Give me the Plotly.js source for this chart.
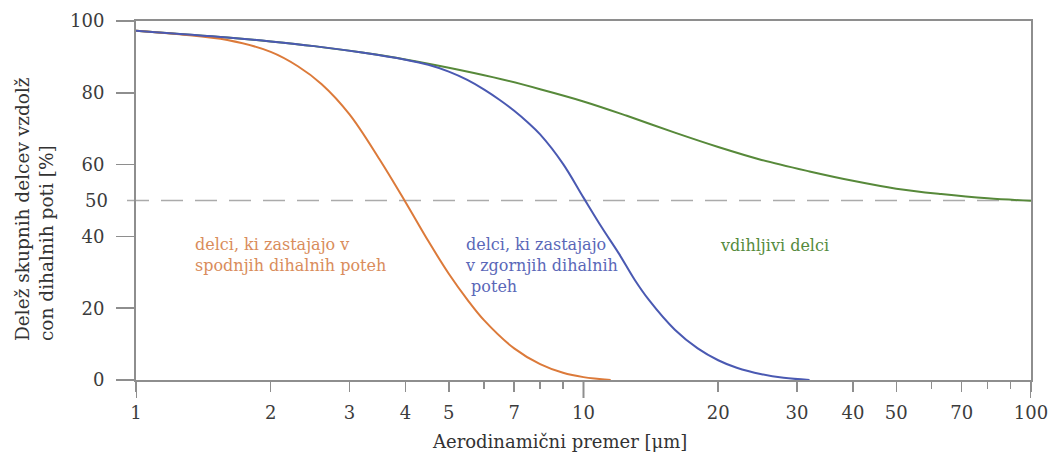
<!DOCTYPE html>
<html>
<head>
<meta charset="utf-8">
<script src="https://cdn.plot.ly/plotly-3.0.1.min.js"></script>
<style>
  html, body { margin: 0; padding: 0; background: #ffffff; }
  #chart { width: 1049px; height: 452px; }
</style>
</head>
<body>
<div id="chart"></div>
<script>
// Aerodynamic diameter [µm] and fraction of particles [%] for each convention
const inhalableX = [1, 1.25, 1.6, 2, 2.5, 3.2, 4, 5, 6.3, 8, 10, 12.5, 16, 20, 25, 32, 40, 50, 63, 80, 100];
const inhalableY = [97.3, 96.4, 95.4, 94.3, 93.0, 91.2, 89.3, 87.0, 84.3, 81.0, 77.6, 73.6, 68.9, 64.9, 61.3, 58.1, 55.5, 53.3, 51.8, 50.6, 49.9];

const lowerX = [1, 1.25, 1.6, 2, 2.3, 2.6, 3, 3.5, 4, 4.5, 5, 5.5, 6, 7, 8, 9, 10, 11.5];
const lowerY = [97.3, 96.3, 94.7, 91.4, 87.4, 82.4, 74.0, 61.5, 49.6, 38.7, 29.6, 22.4, 16.6, 8.8, 4.4, 2.0, 0.8, 0];

const upperX = [1, 1.6, 2, 2.5, 3.2, 4, 4.5, 5, 5.5, 6, 6.5, 7, 7.5, 8, 9, 10, 11, 12, 13, 14, 16, 18, 20, 22, 25, 28, 32];
const upperY = [97.3, 95.4, 94.3, 93.0, 91.2, 89.2, 87.8, 85.9, 83.6, 80.9, 78.0, 75.0, 71.8, 68.4, 60.2, 50.8, 42.4, 35.2, 28.0, 22.3, 14.0, 8.8, 5.5, 3.4, 1.6, 0.6, 0];

// Axis ticks
const xTickVals = [1, 2, 3, 4, 5, 7, 10, 20, 30, 40, 50, 70, 100];
const xTickText = ['1', '2', '3', '4', '5', '7', '10', '20', '30', '40', '50', '70', '100'];
const xMinorVals = [6, 8, 9, 60, 80, 90];
const decadeVals = [1, 10, 100];
const yTickVals = [0, 20, 40, 60, 80, 100];
const halfLevel = 50;

// Series labels
const lowerLabel = 'delci, ki zastajajo v<br>spodnjih dihalnih poteh';
const upperLabel = 'delci, ki zastajajo<br>v zgornjih dihalnih<br> poteh';
const inhalableLabel = 'vdihljivi delci';
const xTitle = 'Aerodinamični premer [μm]';
const yTitle = 'Delež skupnih delcev vzdolž<br>con dihalnih poti [%]';

const FONT = 'DejaVu Serif, Liberation Serif, serif';
const AXIS = '#8e8e8e';
const ORANGE = '#dc7a3a', BLUE = '#4a59b2', GREEN = '#57893a';

const line = (x, y, color) => ({
  x: x, y: y, type: 'scatter', mode: 'lines',
  line: { color: color, width: 2, shape: 'spline', smoothing: 1 },
  hoverinfo: 'skip', showlegend: false
});

const traces = [
  line(inhalableX, inhalableY, GREEN),
  line(lowerX, lowerY, ORANGE),
  line(upperX, upperY, BLUE)
];

// Plot area is 895 x 359 px; helpers convert pixel offsets into paper units
const PW = 895, PH = 359;
const px = v => v / PW, py = v => v / PH;

const shapes = [
  // 50 % reference line, starting a little left of the axis
  { type: 'line', xref: 'paper', yref: 'y', x0: px(-9), x1: 1, y0: halfLevel, y1: halfLevel,
    line: { color: '#ababab', width: 1.5, dash: '22px,12px' }, layer: 'below' }
].concat(decadeVals.map(v => ({
  // longer ticks on each decade
  type: 'line', xref: 'x', yref: 'paper', x0: v, x1: v, y0: 0, y1: py(-18),
  line: { color: AXIS, width: 2 }
})));

const annotations = [
  { text: lowerLabel, x: px(57), y: py(380 - 255), xref: 'paper', yref: 'paper',
    yanchor: 'middle', xanchor: 'left', align: 'left', showarrow: false,
    font: { family: FONT, size: 16, color: '#d98c5b' } },
  { text: upperLabel, x: px(327), y: py(380 - 233), xref: 'paper', yref: 'paper',
    xanchor: 'left', yanchor: 'top', align: 'left', showarrow: false,
    font: { family: FONT, size: 16, color: '#5a67b8' } },
  { text: inhalableLabel, x: px(582), y: py(380 - 245), xref: 'paper', yref: 'paper',
    xanchor: 'left', yanchor: 'middle', align: 'left', showarrow: false,
    font: { family: FONT, size: 16, color: '#558a3c' } },
  // y label for the 50 % level (no tick mark there)
  { text: String(halfLevel), x: px(-26), y: halfLevel, xref: 'paper', yref: 'y',
    xanchor: 'right', yanchor: 'middle', showarrow: false,
    font: { family: FONT, size: 18, color: '#3c3c3c' } },
  { text: xTitle, x: px(294), y: py(-61), xref: 'paper', yref: 'paper',
    xanchor: 'left', yanchor: 'middle', showarrow: false,
    font: { family: FONT, size: 18, color: '#333333' } },
  { text: yTitle, x: px(-102), y: py(37), xref: 'paper', yref: 'paper',
    xanchor: 'center', yanchor: 'bottom', align: 'left', textangle: -90, showarrow: false,
    font: { family: FONT, size: 18.5, color: '#333333' } }
];

const layout = {
  width: 1049, height: 452,
  margin: { l: 136, r: 18, t: 21, b: 72, pad: 0 },
  paper_bgcolor: '#ffffff', plot_bgcolor: '#ffffff',
  font: { family: FONT, size: 18, color: '#3c3c3c' },
  showlegend: false,
  xaxis: {
    type: 'log', range: [0, 2],
    tickmode: 'array', tickvals: xTickVals, ticktext: xTickText,
    ticks: 'outside', ticklen: 10, tickwidth: 1.5, tickcolor: AXIS,
    ticklabelstandoff: 5,
    minor: { tickmode: 'array', tickvals: xMinorVals, ticks: 'outside', ticklen: 7, tickwidth: 1.5, tickcolor: AXIS, showgrid: false },
    showline: true, linecolor: AXIS, linewidth: 2, mirror: true,
    showgrid: false, zeroline: false,
    tickfont: { family: FONT, size: 18, color: '#3c3c3c' }
  },
  yaxis: {
    range: [0, 100],
    tickmode: 'array', tickvals: yTickVals,
    ticks: 'outside', ticklen: 18, tickwidth: 1.5, tickcolor: AXIS,
    ticklabelstandoff: 8,
    showline: true, linecolor: AXIS, linewidth: 2, mirror: true,
    showgrid: false, zeroline: false,
    tickfont: { family: FONT, size: 18, color: '#3c3c3c' }
  },
  shapes: shapes,
  annotations: annotations
};

Plotly.newPlot('chart', traces, layout, { staticPlot: true, displayModeBar: false });
</script>
</body>
</html>
